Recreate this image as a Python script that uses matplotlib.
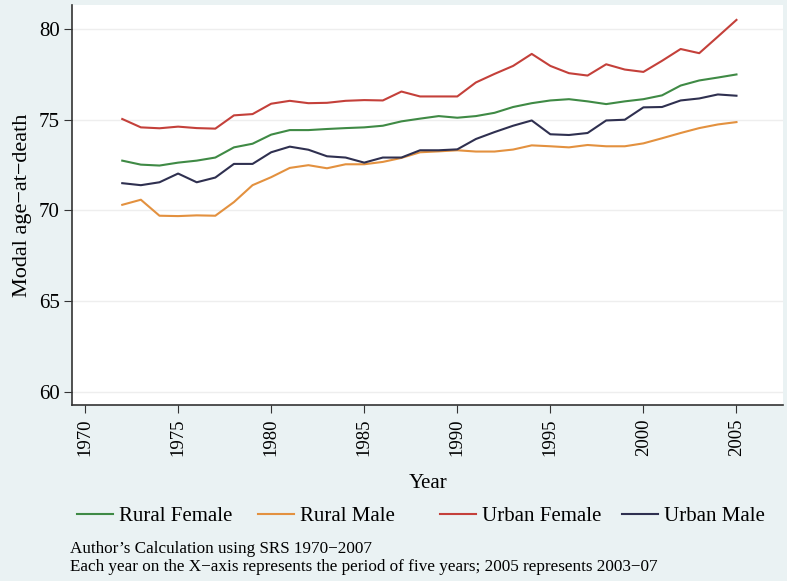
import matplotlib
matplotlib.use("Agg")
import matplotlib.pyplot as plt
from matplotlib.lines import Line2D
import numpy as np

years = np.arange(1972, 2006)

rural_female = [72.74, 72.52, 72.47, 72.63, 72.74, 72.91, 73.47, 73.67, 74.17, 74.42,
                74.42, 74.48, 74.53, 74.57, 74.66, 74.90, 75.05, 75.19, 75.10, 75.19,
                75.37, 75.69, 75.90, 76.05, 76.12, 76.00, 75.85, 76.00, 76.12, 76.33,
                76.87, 77.15, 77.31, 77.48]
rural_male = [70.31, 70.59, 69.71, 69.69, 69.73, 69.71, 70.46, 71.39, 71.83, 72.34,
              72.49, 72.32, 72.54, 72.54, 72.67, 72.89, 73.20, 73.25, 73.31, 73.24,
              73.24, 73.35, 73.58, 73.53, 73.47, 73.60, 73.53, 73.53, 73.69, 73.97,
              74.26, 74.53, 74.73, 74.86]
urban_female = [75.03, 74.57, 74.52, 74.61, 74.53, 74.50, 75.23, 75.30, 75.87, 76.03,
                75.90, 75.92, 76.03, 76.07, 76.05, 76.54, 76.27, 76.27, 76.27, 77.04,
                77.51, 77.95, 78.61, 77.95, 77.55, 77.42, 78.04, 77.75, 77.62, 78.23,
                78.88, 78.65, 79.56, 80.48]
urban_male = [71.50, 71.39, 71.55, 72.03, 71.55, 71.81, 72.56, 72.56, 73.20, 73.51,
              73.34, 72.98, 72.91, 72.63, 72.91, 72.91, 73.31, 73.31, 73.36, 73.93,
              74.31, 74.66, 74.95, 74.19, 74.15, 74.26, 74.95, 74.99, 75.67, 75.69,
              76.05, 76.16, 76.38, 76.31]

series = [("Rural Female", rural_female, "#3f8a45"),
          ("Rural Male", rural_male, "#e3913f"),
          ("Urban Female", urban_female, "#c4403a"),
          ("Urban Male", urban_male, "#2f3050")]

plt.rcParams['font.family'] = ['Liberation Serif', 'DejaVu Serif']

bg = "#eaf2f3"
fig = plt.figure(figsize=(7.87, 5.81), dpi=100, facecolor=bg)
W, H = 787, 581
ax = fig.add_axes([72 / W, 1 - 405 / H, (783 - 72) / W, (405 - 5) / H])
ax.set_facecolor("white")

for name, vals, col in series:
    ax.plot(years, vals, color=col, linewidth=1.5, label=name)

ax.set_xlim(1969.3, 2007.5)
ax.set_ylim(59.3, 81.3)
ax.set_xticks(np.arange(1970, 2006, 5))
ax.set_yticks([60, 65, 70, 75, 80])
ax.tick_params(axis='x', rotation=90, labelsize=13.5, length=6, color="#333333", pad=4)
ax.tick_params(axis='y', labelsize=15, length=6, color="#333333", pad=3)
ax.grid(axis='y', color="#eeeeee", linewidth=1)
ax.set_axisbelow(True)
for s in ["top", "right"]:
    ax.spines[s].set_visible(False)
for s in ["left", "bottom"]:
    ax.spines[s].set_color("#333333")
    ax.spines[s].set_linewidth(1.2)

ax.set_ylabel("Modal age\u2212at\u2212death", fontsize=16, labelpad=5)
fig.text(428 / W, 1 - 483 / H, "Year", fontsize=15, ha='center', va='center')

# legend entries laid out in equal-width columns
leg_x = [77, 258, 440, 622]
for (name, vals, col), lx in zip(series, leg_x):
    h = Line2D([], [], color=col, linewidth=1.5)
    lg = fig.legend(handles=[h], labels=[name], loc='center left',
                    bbox_to_anchor=(lx / W, 1 - 516 / H), frameon=False,
                    fontsize=15, handlelength=1.73, handletextpad=0.3,
                    borderpad=0, borderaxespad=0)

fig.text(70 / W, 1 - 549 / H, "Author\u2019s Calculation using SRS 1970\u22122007",
         fontsize=12.3, va='center')
fig.text(70 / W, 1 - 567 / H,
         "Each year on the X\u2212axis represents the period of five years; 2005 represents 2003\u221207",
         fontsize=12.3, va='center')

fig.savefig("out.png", dpi=100, facecolor=bg)
